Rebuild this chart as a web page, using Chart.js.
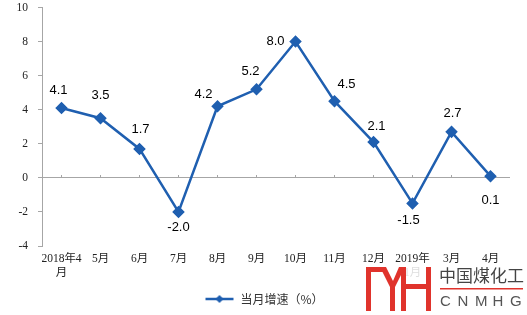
<!DOCTYPE html>
<html>
<head>
<meta charset="utf-8">
<script src="https://cdn.jsdelivr.net/npm/chart.js@4"></script>
<style>
  html, body { margin: 0; padding: 0; background: #fff; }
  #wrap { width: 527px; height: 315px; }
</style>
</head>
<body>
<div id="wrap"><canvas id="growthChart"></canvas></div>
<script>
// data
const months = [['2018年4', '月'], '5月', '6月', '7月', '8月', '9月', '10月', '11月', '12月', ['2019年', '1月'], '3月', '4月'];
const growth = [4.1, 3.5, 1.7, -2.0, 4.2, 5.2, 8.0, 4.5, 2.1, -1.5, 2.7, 0.1];
const yTicks = [-4, -2, 0, 2, 4, 6, 8, 10];
const seriesName = '当月增速（%）';

// label nudges (px) relative to each point
const labelNudge = [[-3, -18], [0, -23], [1, -19], [0, 15], [-14, -12], [-6, -18], [-20, 0], [12, -17], [3, -16], [-4, 17], [1, -18], [0, 24]];

const blue = '#1F5FB0';
const axisGray = '#A6A6A6';
const serif = '"Liberation Serif", "Noto Sans CJK SC", serif';

// legend marker: line with a diamond in the middle
function legendMarker() {
    const c = document.createElement('canvas');
    c.width = 30; c.height = 10;
    const g = c.getContext('2d');
    g.strokeStyle = blue; g.lineWidth = 2.5;
    g.beginPath(); g.moveTo(1, 5); g.lineTo(29, 5); g.stroke();
    g.fillStyle = blue;
    g.beginPath(); g.moveTo(15, 1); g.lineTo(19, 5); g.lineTo(15, 9); g.lineTo(11, 5); g.closePath(); g.fill();
    return c;
}

const valueLabels = {
    id: 'valueLabels',
    afterDatasetsDraw(chart) {
        const ctx = chart.ctx;
        const meta = chart.getDatasetMeta(0);
        ctx.save();
        ctx.font = '13px "Liberation Sans", Arial, sans-serif';
        ctx.fillStyle = '#000';
        ctx.textAlign = 'center';
        ctx.textBaseline = 'middle';
        meta.data.forEach((pt, i) => {
            const n = labelNudge[i];
            ctx.fillText(growth[i].toFixed(1), pt.x + n[0], pt.y + n[1]);
        });
        ctx.restore();
    }
};

// nudge the legend a little to the right, like the original
const legendShift = {
    id: 'legendShift',
    afterLayout(chart) {
        chart.legend.left += 9;
        chart.legend.right += 9;
    }
};

// watermark logo, bottom right
const logo = {
    id: 'logo',
    afterDraw(chart) {
        const ctx = chart.ctx;
        ctx.save();
        ctx.fillStyle = 'rgba(255,255,255,0.85)';
        ctx.fillRect(362, 264, 165, 51);
        ctx.fillStyle = '#E0332C';
        ctx.fillRect(366, 267, 5, 44);
        ctx.fillRect(366, 267, 19, 5);
        ctx.beginPath();
        ctx.moveTo(380, 267); ctx.lineTo(386, 267); ctx.lineTo(393, 281);
        ctx.lineTo(399, 267); ctx.lineTo(405, 267); ctx.lineTo(395, 287);
        ctx.lineTo(395, 311); ctx.lineTo(390, 311); ctx.lineTo(390, 287);
        ctx.closePath(); ctx.fill();
        ctx.fillRect(401, 267, 5, 44);
        ctx.fillRect(426, 267, 5, 44);
        ctx.fillRect(401, 284, 30, 5);
        ctx.fillStyle = '#444';
        ctx.font = '17px "Noto Sans CJK SC", sans-serif';
        ctx.textBaseline = 'middle';
        ctx.fillText('中国煤化工', 439, 276);
        ctx.fillStyle = '#E0332C';
        ctx.fillRect(440, 288, 83, 1.5);
        ctx.fillStyle = '#555';
        ctx.font = '15px "Liberation Sans", sans-serif';
        const letters = 'CNMHG';
        for (let i = 0; i < letters.length; i++) {
            ctx.fillText(letters[i], 440 + i * 17.5, 302);
        }
        ctx.restore();
    }
};

new Chart(document.getElementById('growthChart'), {
    type: 'line',
    data: {
        labels: months,
        datasets: [{
            label: seriesName,
            data: growth,
            borderColor: blue,
            backgroundColor: blue,
            borderWidth: 2.5,
            pointStyle: 'rectRot',
            pointRadius: 4.5,
            pointHoverRadius: 4.5,
            tension: 0,
            fill: false
        }]
    },
    options: {
        responsive: true,
        maintainAspectRatio: false,
        animation: false,
        layout: { padding: { top: 7.5, right: 17, left: 0, bottom: 0 } },
        scales: {
            x: {
                offset: true,
                grid: { display: false, drawTicks: false },
                border: { display: false },
                ticks: { color: '#222', font: { family: serif, size: 11.5 }, padding: 6, maxRotation: 0, autoSkip: false },
                afterFit(scale) { scale.height = 39; }
            },
            x2: {
                type: 'category',
                labels: months,
                position: { y: 0 },
                offset: true,
                ticks: { display: false },
                grid: { drawOnChartArea: false, tickLength: -3, color: axisGray },
                border: { display: false }
            },
            y: {
                min: -4,
                max: 10,
                afterBuildTicks(scale) { scale.ticks = yTicks.map(v => ({ value: v })); },
                grid: {
                    drawOnChartArea: true,
                    tickLength: 4,
                    color: c => c.tick && c.tick.value === 0 ? axisGray : 'rgba(0,0,0,0)',
                    tickColor: axisGray
                },
                border: { color: axisGray, width: 1 },
                ticks: { color: '#222', font: { family: serif, size: 11.5 }, padding: 10 },
                afterFit(scale) {
                    scale.width = 42;
                    scale.paddingTop = 0;
                    scale.paddingBottom = 0;
                }
            }
        },
        plugins: {
            tooltip: { enabled: false },
            legend: {
                position: 'bottom',
                labels: {
                    usePointStyle: true,
                    pointStyle: legendMarker(),
                    pointStyleWidth: 30,
                    color: '#333',
                    font: { family: '"Noto Sans CJK SC", sans-serif', size: 12 },
                    padding: 8
                }
            }
        }
    },
    plugins: [valueLabels, legendShift, logo]
});
</script>
</body>
</html>
